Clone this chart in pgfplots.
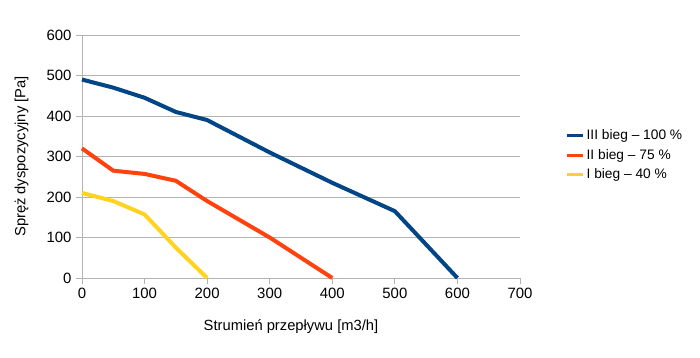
\documentclass[border=0pt]{standalone}
\usepackage{pgfplots}
\pgfplotsset{compat=1.18}
\usepackage{fontspec}
\setmainfont{Liberation Sans}
\definecolor{c1}{HTML}{004586}
\definecolor{c2}{HTML}{FF420E}
\definecolor{c3}{HTML}{FFD320}
\definecolor{gridc}{HTML}{B3B3B3}
\begin{document}
\begin{tikzpicture}
\path[use as bounding box, fill=white] (-82bp,-80bp) rectangle (618bp,278bp);
\begin{axis}[
  at={(0,0)}, anchor=origin,
  scale only axis, width=438bp, height=243bp,
  xmin=0, xmax=700, ymin=0, ymax=600,
  xtick={0,100,...,700}, ytick={0,100,...,600},
  axis x line*=bottom, axis y line*=left,
  axis line style={gridc, line width=1pt, -},
  ymajorgrids, grid style={gridc, line width=1pt},
  tick style={gridc, line width=1pt},
  tick align=outside, major tick length=6bp,
  /pgf/number format/assume math mode=true,
  ticklabel style={font=\fontsize{15}{17}\selectfont, text=black},
  xticklabel style={yshift=-1bp},
  yticklabel style={xshift=-1bp},
  xlabel={Strumień przepływu [m3/h]},
  ylabel={Spręż dyspozycyjny [Pa]},
  label style={font=\fontsize{14.8}{17}\selectfont},
  xlabel style={at={(axis description cs:0.5,0)}, anchor=north, yshift=-38bp, xshift=-10bp},
  ylabel style={at={(axis description cs:0,0.5)}, anchor=south, yshift=50bp},
  legend style={at={(1.097,0.506)}, anchor=west, draw=none, fill=none,
    font=\fontsize{13.8}{16}\selectfont, row sep=4bp,
    nodes={inner xsep=2bp},
    legend cell align=left},
  legend image code/.code={\draw[#1, line width=3bp] (0bp,0bp) -- (16bp,0bp);},
  clip=false,
]
\addplot[c1, line width=4bp] coordinates {(0,490) (50,470) (100,445) (150,410) (200,390) (300,310) (400,235) (500,165) (600,0)};
\addlegendentry{III bieg – 100 \%}
\addplot[c2, line width=4bp] coordinates {(0,320) (50,265) (100,257) (150,240) (200,190) (300,100) (400,0)};
\addlegendentry{II bieg – 75 \%}
\addplot[c3, line width=4bp] coordinates {(0,210) (50,190) (100,157) (150,75) (200,0)};
\addlegendentry{I bieg – 40 \%}
\end{axis}
\end{tikzpicture}
\end{document}
